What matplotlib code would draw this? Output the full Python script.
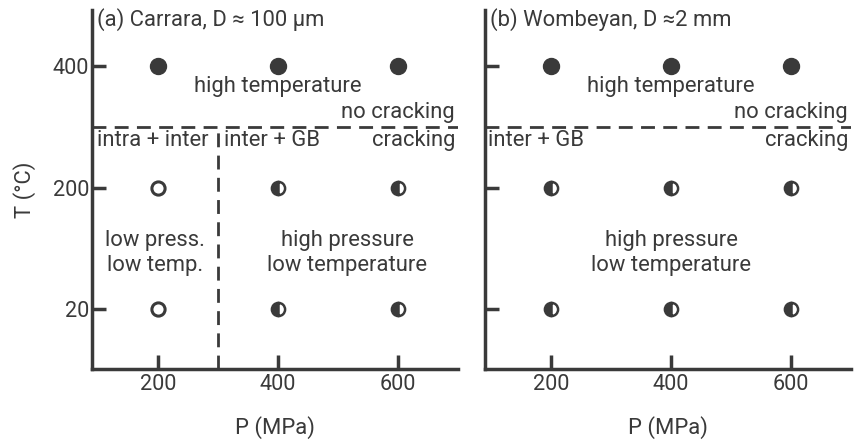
import matplotlib
matplotlib.use('Agg')
import matplotlib.pyplot as plt
import numpy as np

plt.rcParams['font.family'] = ['Roboto', 'DejaVu Sans']

# Data
pressures = [200, 400, 600]
temperatures = ['20', '200', '400']
# crack state per (T row, P column): 'open' = no cracks seen, 'half' = cracking, 'full' = no cracking
carrara_state = [['open', 'half', 'half'],
                 ['open', 'half', 'half'],
                 ['full', 'full', 'full']]
wombeyan_state = [['half', 'half', 'half'],
                  ['half', 'half', 'half'],
                  ['full', 'full', 'full']]
p_boundary = 300

DARK = '#3a3a3a'
FS = 15.8
TICK_FS = 15.6
LS = 1.25


def draw_points(ax, states):
    for i, row in enumerate(states):
        for j, s in enumerate(row):
            if s == 'full':
                ax.plot(pressures[j], i, 'o', ms=11.5, color=DARK, mec=DARK)
            elif s == 'open':
                ax.plot(pressures[j], i, 'o', ms=9.5, mfc='white', mec=DARK, mew=2.2)
            else:
                ax.plot(pressures[j], i, 'o', ms=9.5, color=DARK, mec=DARK, mew=1.8,
                        fillstyle='left', markerfacecoloralt='white')


def style_axes(ax, show_ylabels):
    ax.set_xlim(90, 700)
    ax.set_ylim(-0.49, 2.46)
    ax.set_xticks(pressures)
    ax.set_yticks(range(len(temperatures)))
    ax.set_yticklabels(temperatures if show_ylabels else [])
    for side in ['top', 'right']:
        ax.spines[side].set_visible(False)
    for side in ['left', 'bottom']:
        ax.spines[side].set_linewidth(2.5)
        ax.spines[side].set_color(DARK)
    ax.tick_params(direction='in', length=10, width=2.5, color=DARK,
                   labelsize=TICK_FS, labelcolor=DARK)
    ax.tick_params(axis='y', pad=2)
    ax.tick_params(axis='x', pad=3.5)
    ax.set_xlabel('P (MPa)', fontsize=FS, color=DARK, labelpad=15)
    ax.axhline(1.5, color=DARK, lw=2, ls=(0, (5, 3)))


fig = plt.figure(figsize=(8.58, 4.40), dpi=100)
ax1 = fig.add_axes([0.1072, 0.1614, 0.4266, 0.816])
ax2 = fig.add_axes([0.5653, 0.1614, 0.4266, 0.816])

# (a) Carrara
style_axes(ax1, True)
ax1.plot([p_boundary, p_boundary], [-0.49, 1.5], color=DARK, lw=2, ls=(0, (5, 3)))
draw_points(ax1, carrara_state)
ax1.set_ylabel('T (°C)', fontsize=FS, color=DARK, labelpad=12)
ax1.text(98, 2.38, '(a) Carrara, D ≈ 100 μm', fontsize=FS, color=DARK, va='center')
ax1.text(400, 1.83, 'high temperature', fontsize=FS, color=DARK, ha='center', va='center')
ax1.text(695, 1.62, 'no cracking', fontsize=FS, color=DARK, ha='right', va='center')
ax1.text(695, 1.39, 'cracking', fontsize=FS, color=DARK, ha='right', va='center')
ax1.text(98, 1.39, 'intra + inter', fontsize=FS, color=DARK, va='center')
ax1.text(310, 1.39, 'inter + GB', fontsize=FS, color=DARK, va='center')
ax1.text(195, 0.46, 'low press.\nlow temp.', fontsize=FS, color=DARK, ha='center',
         va='center', linespacing=LS)
ax1.text(515, 0.46, 'high pressure\nlow temperature', fontsize=FS, color=DARK,
         ha='center', va='center', linespacing=LS)

# (b) Wombeyan
style_axes(ax2, False)
draw_points(ax2, wombeyan_state)
ax2.text(98, 2.38, '(b) Wombeyan, D ≈2 mm', fontsize=FS, color=DARK, va='center')
ax2.text(400, 1.83, 'high temperature', fontsize=FS, color=DARK, ha='center', va='center')
ax2.text(695, 1.62, 'no cracking', fontsize=FS, color=DARK, ha='right', va='center')
ax2.text(695, 1.39, 'cracking', fontsize=FS, color=DARK, ha='right', va='center')
ax2.text(95, 1.39, 'inter + GB', fontsize=FS, color=DARK, va='center')
ax2.text(400, 0.46, 'high pressure\nlow temperature', fontsize=FS, color=DARK,
         ha='center', va='center', linespacing=LS)

fig.savefig('out.png', dpi=100)
